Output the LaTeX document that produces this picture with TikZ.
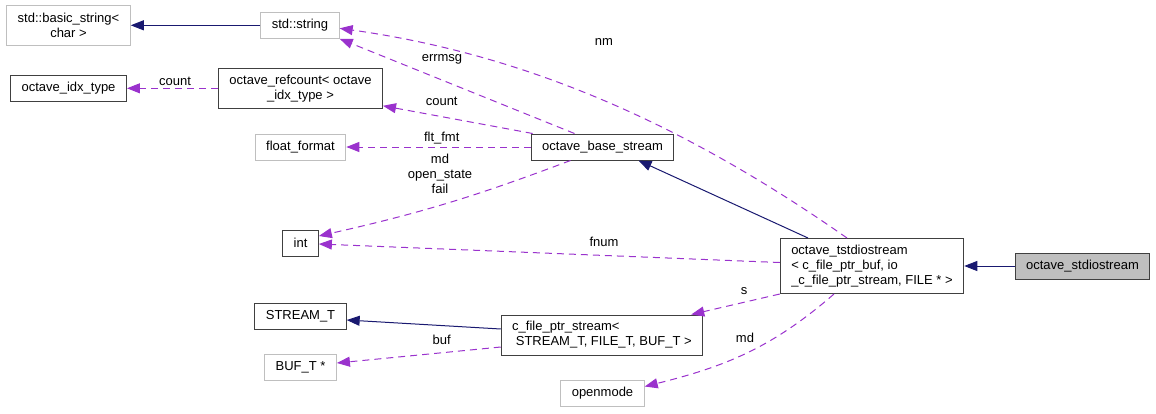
\documentclass[tikz,border=0pt]{standalone}
\usepackage{fontspec}
\setmainfont{Liberation Sans}
\usetikzlibrary{arrows.meta,calc,positioning}
\definecolor{dox-navy}{HTML}{191970}
\definecolor{dox-purple}{HTML}{9A32CD}
\definecolor{dox-gray}{HTML}{BFBFBF}
\definecolor{dox-dark}{HTML}{404040}

\begin{document}
\begin{tikzpicture}[%
      x=1pt, y=-1pt,                         % One unit per pixel, top to bottom
      >={Triangle[length=13pt, width=10pt]}, % Filled heads as in dot
      font=\fontsize{13}{15}\selectfont,
      ]
  \tikzset{
    base/.style={draw, rectangle, align=center, minimum height=26pt, inner xsep=11pt, inner ysep=3pt, line width=1pt},
    cls/.style={base, draw=dox-dark},
    ext/.style={base, draw=dox-gray},
    self/.style={base, draw=dox-dark, fill=dox-gray},
    inherit/.style={->, draw, dox-navy, line width=1pt},
    member/.style={->, draw, dox-purple, line width=1pt, dash pattern=on 7pt off 5pt},
    lbl/.style={inner sep=0pt, align=center, text=black},
  }
  \useasboundingbox (0,0) rectangle (1156,413);

  % Define the classes to the left
  \node [ext, minimum height=40pt] (bstr)    at (68.5,25.3)  {std::basic\_string<\\char >};
  \node [cls]                      (idx)     at (68.5,88.3)  {octave\_idx\_type};

  % Define the classes in the second column
  \node [ext]                      (string)  at (300,25.3)   {std::string};
  \node [cls, minimum height=40pt] (ref)     at (300.5,88.3) {octave\_refcount< octave\\\_idx\_type >};
  \node [ext]                      (flt)     at (300.5,147)  {float\_format};
  \node [cls]                      (int)     at (300.5,243)  {int};
  \node [cls]                      (streamt) at (300.5,316.5) {STREAM\_T};
  \node [ext]                      (buft)    at (300.5,367)  {BUF\_T *};

  % Define the classes in the middle
  \node [cls]                      (base)    at (602.5,147)  {octave\_base\_stream};
  \node [cls, minimum height=40pt, align=left] (cfile) at (602,335) {c\_file\_ptr\_stream<\\\ STREAM\_T, FILE\_T, BUF\_T >};
  \node [ext]                      (open)    at (602.5,393.5) {openmode};

  % Define the classes to the right
  \node [cls, minimum height=55pt, align=left] (tstd) at (872,266) {octave\_tstdiostream\\< c\_file\_ptr\_buf, io\\\_c\_file\_ptr\_stream, FILE * >};
  \node [self]                     (stdio)   at (1082.5,266) {octave\_stdiostream};

  % Inheritance
  \draw [inherit] (string) -- (bstr);
  \draw [inherit] ($(tstd.north)+(-64,0)$) -- ($(base.south)+(36,0)$);
  \draw [inherit] (stdio) -- (tstd);
  \draw [inherit] ($(cfile.west)+(0,-6)$) -- ($(streamt.east)+(0,3.5)$);

  % Usage
  \draw [member] (ref) -- (idx)
    node[lbl] (l-count) at (175,81) {count};
  \draw [member] ($(base.north)+(-28,0)$) -- (string.south east)
    node[lbl] (l-errmsg) at (442,59) {errmsg};
  \draw [member] ($(base.north west)+(2,0)$) -- ($(ref.south east)+(0,-3)$)
    node[lbl] (l-refcount) at (441.7,101.7) {count};
  \draw [member] (base) -- (flt)
    node[lbl] (l-fltfmt) at (441.7,138) {flt\_fmt};
  \draw [member] ($(base.south)+(-32,0)$) to[bend left=4] ($(int.east)+(0,-7)$)
    node[lbl] (l-state) at (440,174) {md\\open\_state\\fail};
  \draw [member] ($(tstd.north)+(-25,0)$) to[out=145, in=-8, looseness=0.9] ($(string.east)+(0,3)$)
    node[lbl] (l-nm) at (604,42) {nm};
  \draw [member] ($(tstd.west)+(0,-3.5)$) -- ($(int.east)+(0,1)$)
    node[lbl] (l-fnum) at (604,241.7) {fnum};
  \draw [member] (tstd.south west) -- ($(cfile.north east)+(-12,0)$)
    node[lbl] (l-s) at (744,291) {s};
  \draw [member] ($(tstd.south)+(-38,0)$) to[out=221, in=14] ($(open.east)+(0,-7)$)
    node[lbl] (l-md) at (745,338) {md};
  \draw [member] ($(cfile.west)+(0,12)$) -- ($(buft.east)+(0,-4)$)
    node[lbl] (l-buf) at (441.7,340) {buf};

\end{tikzpicture}
\end{document}
